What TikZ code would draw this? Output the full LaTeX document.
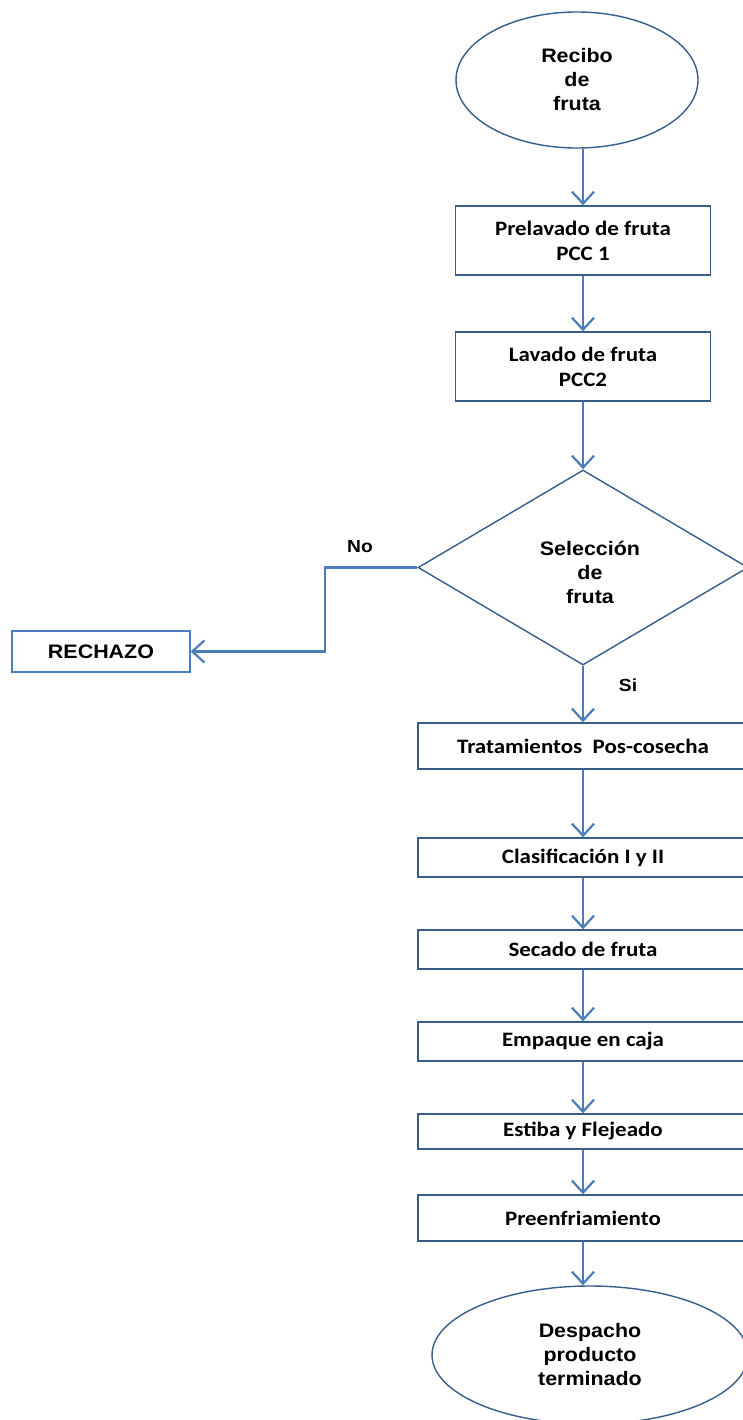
\documentclass[tikz,border=0pt]{standalone}
\usepackage{fontspec}
\usetikzlibrary{shapes.geometric,arrows.meta}
\newfontfamily\calfont[FakeStretch=1.12]{Carlito}
\newfontfamily\arfont[FakeStretch=1.1]{Liberation Sans}
\definecolor{bdr}{HTML}{385D8A}
\definecolor{lnk}{HTML}{4A7EBB}
\tikzset{
  cal/.style={font=\calfont\bfseries\fontsize{20.5}{25}\selectfont},
  ari/.style={font=\arfont\bfseries\fontsize{19.5}{24}\selectfont},
  stepbox/.style={draw=bdr, line width=1.4pt, rectangle, inner sep=0pt, align=center, cal, text=black},
  termshape/.style={draw=bdr, line width=1.4pt, ellipse, inner sep=0pt, align=center, ari, text=black},
  conn/.style={draw=lnk, line width=2.2pt, -{Straight Barb[length=12pt,width=22pt]}},
  lbl/.style={font=\arfont\bfseries\fontsize{17.5}{21}\selectfont, text=black, inner sep=0pt}
}
\begin{document}
\begin{tikzpicture}[x=1pt,y=-1pt]
\useasboundingbox[fill=white] (0,0) rectangle (743,1420);

\node[termshape, minimum width=242pt, minimum height=136pt] (rec) at (577,80) {Recibo\\de\\fruta};
\node[stepbox, minimum width=255pt, minimum height=69pt] (p1) at (583,240.5) {Prelavado de fruta\\PCC 1};
\node[stepbox, minimum width=255pt, minimum height=69pt] (p2) at (583,366.5) {Lavado de fruta\\PCC2};
\node[draw=bdr, line width=1.4pt, diamond, inner sep=0pt, minimum width=330pt, minimum height=195pt] (sel) at (583,567.5) {};
\node[ari, align=center, inner sep=0pt] (seltxt) at (590,572) {Selección\\de\\fruta};
\node[stepbox, draw=lnk, ari, minimum width=178pt, minimum height=41pt] (rech) at (101,651.5) {RECHAZO};

\node[stepbox, minimum width=330pt, minimum height=46pt] (t1) at (583,746) {Tratamientos\ \ Pos-cosecha};
\node[stepbox, minimum width=330pt, minimum height=39pt] (t2) at (583,857.5) {Clasificación I y II};
\node[stepbox, minimum width=330pt, minimum height=39pt] (t3) at (583,949.5) {Secado de fruta};
\node[stepbox, minimum width=330pt, minimum height=39pt] (t4) at (583,1041.5) {Empaque en caja};
\node[stepbox, minimum width=330pt, minimum height=35pt] (t5) at (583,1131.5) {Estiba y Flejeado};
\node[stepbox, minimum width=330pt, minimum height=46pt] (t6) at (583,1218) {Preenfriamiento};
\node[termshape, minimum width=316pt, minimum height=138pt] (desp) at (590,1355) {Despacho\\producto\\terminado};

\node[lbl] (no) at (360,547) {No};
\node[lbl] (si) at (628,685) {Si};

\coordinate (nb) at (325,0);

\draw[conn] (p1.north |- rec.south) -- (p1.north);
\draw[conn] (p1.south) -- (p2.north);
\draw[conn] (p2.south) -- (sel.north);
\draw[conn] (sel.south) -- (t1.north);
\draw[conn] (t1.south) -- (t2.north);
\draw[conn] (t2.south) -- (t3.north);
\draw[conn] (t3.south) -- (t4.north);
\draw[conn] (t4.south) -- (t5.north);
\draw[conn] (t5.south) -- (t6.north);
\draw[conn] (t6.south) -- (t6.south |- desp.north);
\draw[conn] (sel.west) -- (sel.west -| nb) -- (nb |- rech.east) -- (rech.east);
\end{tikzpicture}
\end{document}
